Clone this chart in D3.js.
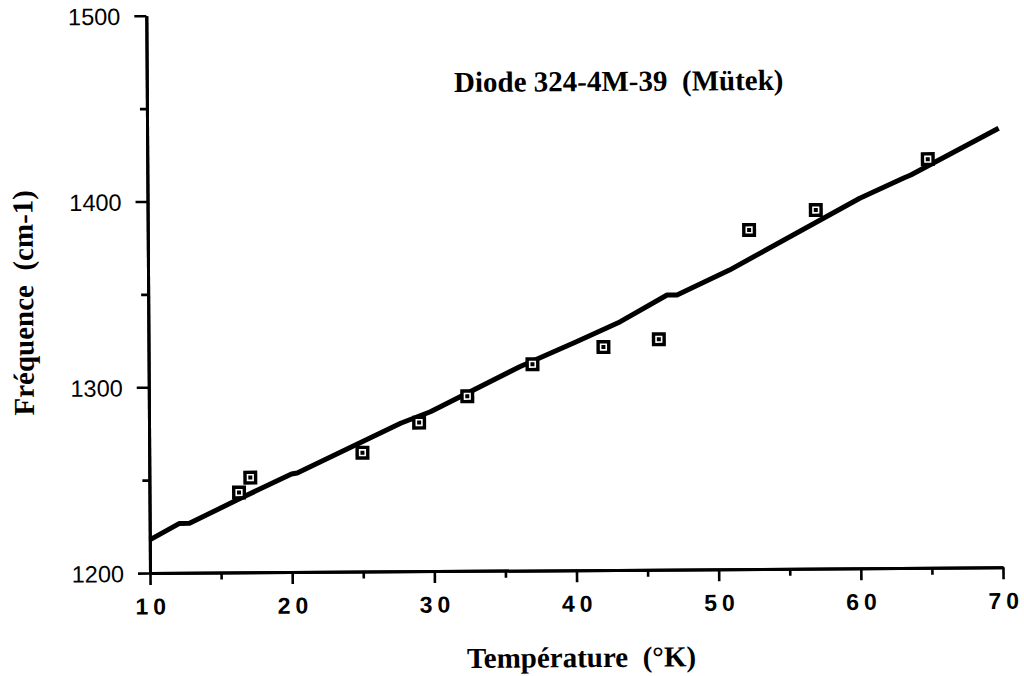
<!DOCTYPE html>
<html>
<head>
<meta charset="utf-8">
<script src="https://cdn.jsdelivr.net/npm/d3@7"></script>
<style>
  body { margin: 0; background: #fff; }
  svg { display: block; }
</style>
</head>
<body>
<svg id="chart" width="1024" height="676"></svg>
<script>
// Measured diode frequencies versus temperature
const temperature = [16.3, 17.1, 25.0, 29.0, 32.4, 37.0, 42.0, 45.9, 52.3, 57.0, 64.9];
const frequency   = [1243, 1251, 1264, 1280, 1294, 1311, 1320, 1324, 1382.5, 1393, 1420];

// Calibration line (drawn as a polyline)
const fitTemperature = [10.0, 12.1, 12.8, 16.4, 20.0, 20.4, 27.7, 29.8, 36.1, 40.1, 43.2, 46.5, 47.2, 50.9, 60.1, 63.2, 63.7, 69.9];
const fitFrequency   = [1217.8, 1226.6, 1226.6, 1239.9, 1252.8, 1253.3, 1279.7, 1285.8, 1309.7, 1323.0, 1333.6, 1347.8, 1347.8, 1361.0, 1399.2, 1409.9, 1411.5, 1436.4];

// Axis ticks
const xTicks = [10, 20, 30, 40, 50, 60, 70];
const xMinorTicks = [15, 25, 35, 45, 55, 65];
const yTicks = [1200, 1300, 1400, 1500];
const yMinorTicks = [1250, 1350, 1450];

const chartTitle = "Diode 324-4M-39  (Mütek)";
const xTitle = "Température  (°K)";
const yTitle = "Fréquence  (cm-1)";

const svg = d3.select("#chart");
const x = d3.scaleLinear().domain([10, 70]).range([150, 1003]);
const y = d3.scaleLinear().domain([1200, 1500]).range([573, 15.7]);

// the whole plot sits slightly tilted on the page
const g = svg.append("g").attr("transform", `rotate(-0.38, ${x(10)}, ${y(1200)})`);

const sans = "'Liberation Sans', Arial, Helvetica, sans-serif";
const serif = "'Liberation Serif', 'Times New Roman', serif";

function styleAxis(sel, width) {
  sel.select(".domain").attr("stroke", "#000").attr("stroke-width", width);
  sel.selectAll(".tick line").attr("stroke", "#000").attr("stroke-width", 2.6);
}

// minor ticks
g.append("g")
  .attr("transform", `translate(0,${y(1200)})`)
  .call(d3.axisBottom(x).tickValues(xMinorTicks).tickSize(7).tickSizeOuter(0).tickFormat(""))
  .call(s => styleAxis(s, 3));
g.append("g")
  .attr("transform", `translate(${x(10)},0)`)
  .call(d3.axisLeft(y).tickValues(yMinorTicks).tickSize(7).tickSizeOuter(0).tickFormat(""))
  .call(s => styleAxis(s, 3));

// major x axis
const xAxis = g.append("g")
  .attr("transform", `translate(0,${y(1200)})`)
  .call(d3.axisBottom(x).tickValues(xTicks).tickSize(12).tickSizeOuter(0).tickFormat(d3.format("d")))
  .call(s => styleAxis(s, 3));
xAxis.selectAll(".tick text")
  .attr("y", 41.5).attr("dy", null).attr("dx", 2.5)
  .attr("fill", "#000")
  .style("font-family", sans).style("font-size", "23px").style("font-weight", "bold")
  .style("letter-spacing", "5px");

// major y axis
const yAxis = g.append("g")
  .attr("transform", `translate(${x(10)},0)`)
  .call(d3.axisLeft(y).tickValues(yTicks).tickSize(12).tickSizeOuter(0).tickFormat(d3.format("d")))
  .call(s => styleAxis(s, 3));
yAxis.selectAll(".tick text")
  .attr("x", -26).attr("dy", "0.36em")
  .attr("fill", "#000")
  .style("font-family", sans).style("font-size", "23.5px");

// calibration line
const line = d3.line().x(d => x(d[0])).y(d => y(d[1]));
g.append("path")
  .datum(fitTemperature.map((t, i) => [t, fitFrequency[i]]))
  .attr("d", line)
  .attr("fill", "none")
  .attr("stroke", "#000")
  .attr("stroke-width", 5)
  .attr("stroke-linejoin", "round")
  .attr("stroke-linecap", "butt");

// measured points: filled square with a small open square inside
const pts = g.append("g").selectAll("g")
  .data(temperature.map((t, i) => [t, frequency[i]]))
  .join("g")
  .attr("transform", d => `translate(${x(d[0])},${y(d[1])})`);
pts.append("rect")
  .attr("x", -7).attr("y", -7).attr("width", 14).attr("height", 14)
  .attr("fill", "#000");
pts.append("rect")
  .attr("x", -2.8).attr("y", -2.8).attr("width", 5.6).attr("height", 5.6)
  .attr("fill", "none").attr("stroke", "#fff").attr("stroke-width", 1.6);

// titles
g.append("text")
  .attr("x", 622).attr("y", 94)
  .attr("text-anchor", "middle")
  .style("white-space", "pre")
  .style("font-family", serif).style("font-size", "29px").style("font-weight", "bold")
  .text(chartTitle);

g.append("text")
  .attr("x", 581).attr("y", 670)
  .attr("text-anchor", "middle")
  .style("white-space", "pre")
  .style("font-family", serif).style("font-size", "29px").style("font-weight", "bold")
  .text(xTitle);

g.append("text")
  .attr("transform", "translate(35,302) rotate(-90)")
  .attr("text-anchor", "middle")
  .style("white-space", "pre")
  .style("font-family", serif).style("font-size", "29px").style("font-weight", "bold")
  .text(yTitle);
</script>
</body>
</html>
